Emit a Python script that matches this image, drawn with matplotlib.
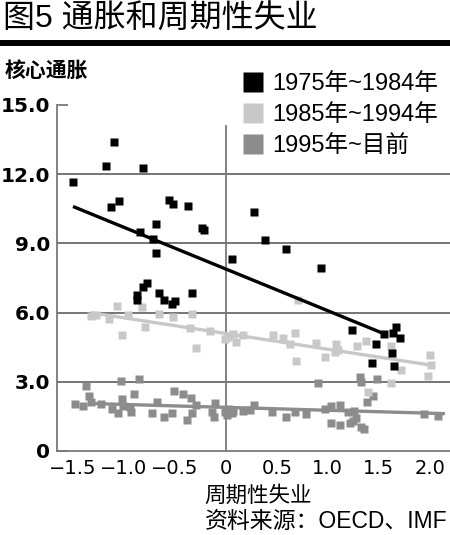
import matplotlib
matplotlib.use("Agg")
import matplotlib.pyplot as plt
from matplotlib.lines import Line2D

plt.rcParams['font.family'] = ['Liberation Sans', 'Noto Sans CJK SC', 'DejaVu Sans']

# ---------------- data ----------------
title = "图5 通胀和周期性失业"
ylabel = "核心通胀"
xlabel = "周期性失业"
source = "资料来源：OECD、IMF"
series_names = ["1975年~1984年", "1985年~1994年", "1995年~目前"]
colors = ["#000000", "#c8c8c8", "#8c8c8c"]

x_ticks = [-1.5, -1.0, -0.5, 0, 0.5, 1.0, 1.5, 2.0]
x_ticklabels = ["\u22121.5", "\u22121.0", "\u22120.5", "0", "0.5", "1.0", "1.5", "2.0"]
y_ticks = [0, 3, 6, 9, 12, 15]
y_ticklabels = ["0", "3.0", "6.0", "9.0", "12.0", "15.0"]

# 1975-1984
bx = [-1.50, -1.10, -1.18, -0.81, -1.13, -1.05, -0.56, -0.52, -0.37, -0.69, -0.84, -0.23, -0.21,
      -0.71, -0.69, 0.28, 0.06, -0.77, -0.81, -0.87, -0.87, -0.66, -0.61, -0.53, -0.50, -0.33,
      0.38, 0.59, 0.93, 1.24, 1.55, 1.64, 1.67, 1.71, 1.47, 1.63, 1.43, 1.65]
by = [11.67, 13.38, 12.34, 12.27, 10.56, 10.85, 10.88, 10.71, 10.62, 9.83, 9.49, 9.65, 9.58,
      9.20, 8.57, 10.37, 8.31, 7.27, 7.12, 6.76, 6.55, 6.86, 6.55, 6.37, 6.52, 6.86,
      9.13, 8.77, 7.93, 5.23, 5.06, 5.10, 5.37, 4.90, 4.62, 4.23, 3.80, 3.70]
# 1985-1994
lx = [-1.32, -1.27, -1.15, -1.07, -0.96, -1.02, -0.82, -0.79, -0.66, -0.52, -0.33, -0.35, -0.29,
      -0.16, -0.01, 0.02, 0.07, 0.10, 0.17, 0.46, 0.56, 0.63, 0.68, 0.69, 0.88, 0.97, 1.08,
      1.07, 1.10, 1.29, 1.38, 1.62, 1.72, 2.00, 2.01, 1.98, 0.71, 1.40, 1.62]
ly = [5.87, 5.90, 5.71, 6.30, 5.90, 5.03, 6.25, 5.37, 5.94, 5.82, 5.93, 5.35, 4.45,
      5.22, 4.84, 4.96, 5.07, 4.71, 5.03, 5.03, 4.88, 4.62, 5.10, 3.91, 4.70, 4.06, 4.62,
      4.30, 4.38, 4.55, 4.77, 4.55, 3.51, 4.16, 3.73, 3.25, 6.55, 2.57, 2.93]
# 1995-now
mx = [-1.37, -1.48, -1.40, -1.34, -1.32, -1.23, -1.12, -1.06, -1.02, -1.03, -0.85, -0.90, -1.01,
      -0.94, -0.93, -0.72, -0.68, -0.61, -0.53, -0.51, -0.42, -0.34, -0.29, -0.33, -0.38, -0.11,
      -0.14, -0.12, -0.01, 0.02, 0.06, 0.01, 0.24, 0.28, 0.45, 0.59, 0.68, 0.79, 0.90, 0.97,
      1.03, 1.12, 1.03, 1.12, 1.22, 1.20, 1.26, 1.28, 1.25, 1.33, 1.36, 1.32, 1.33, 1.48,
      1.39, 1.44, 1.94, 2.08, 0.07, 0.17]
my = [2.82, 2.02, 1.95, 2.38, 2.11, 2.02, 1.80, 1.63, 2.24, 3.03, 3.13, 2.47, 1.95,
      1.89, 1.67, 1.63, 2.14, 1.49, 1.66, 2.60, 2.47, 2.31, 1.99, 1.66, 1.34, 2.09,
      1.70, 1.49, 1.70, 1.80, 1.66, 1.56, 1.78, 1.99, 1.67, 1.49, 1.70, 1.60, 2.96, 1.82,
      1.95, 1.99, 1.23, 1.13, 1.20, 1.70, 1.75, 1.41, 1.31, 1.02, 0.94, 3.22, 3.00, 3.12,
      2.11, 2.40, 1.59, 1.52, 1.75, 1.75]

# trend lines (endpoints)
b_trend_x = [-1.50, 1.56]
b_trend_y = [10.60, 5.07]
l_trend_x = [-1.33, 2.00]
l_trend_y = [6.00, 3.73]
m_trend_x = [-1.33, 2.15]
m_trend_y = [2.06, 1.62]

# ---------------- figure ----------------
W, H = 450, 535
fig = plt.figure(figsize=(W / 100, H / 100), dpi=100)
ax = fig.add_axes([57 / W, 1 - 451 / H, 1 - 57 / W, (451 - 105) / H])

ax.set_xlim(-1.657, 2.2)
ax.set_ylim(0, 15)

# grid lines
for yv in [3, 6, 9, 12]:
    ax.axhline(yv, color="#6a6a6a", lw=1.3, zorder=1)
ax.axvline(0, ymin=0, ymax=14.1 / 15, color="#7a7a7a", lw=1.3, zorder=1)

ms = 6.0
ax.plot(mx, my, ls="none", marker="s", ms=ms, color=colors[2], mec="none", zorder=2)
ax.plot(m_trend_x, m_trend_y, color=colors[2], lw=2.4, zorder=3, solid_capstyle="butt")
ax.plot(lx, ly, ls="none", marker="s", ms=ms, color=colors[1], mec="none", zorder=4)
ax.plot(l_trend_x, l_trend_y, color=colors[1], lw=2.4, zorder=5, solid_capstyle="butt")
ax.plot(bx, by, ls="none", marker="s", ms=ms, color=colors[0], mec="none", zorder=6)
ax.plot(b_trend_x, b_trend_y, color=colors[0], lw=2.4, zorder=7, solid_capstyle="butt")

for s in ["top", "right"]:
    ax.spines[s].set_visible(False)
for s in ["left", "bottom"]:
    ax.spines[s].set_color("#7a7a7a")
    ax.spines[s].set_linewidth(1.3)

ax.set_xticks(x_ticks)
ax.set_xticklabels(x_ticklabels, family="DejaVu Sans", fontsize=14)
ax.tick_params(axis="x", length=0, pad=6)
ax.set_yticks(y_ticks)
ax.set_yticklabels(y_ticklabels, family="DejaVu Sans", fontsize=14.5, fontweight="bold")
ax.tick_params(axis="y", direction="in", length=8, width=1.3, color="#7a7a7a", pad=5)

# legend
handles = [Line2D([], [], ls="none", marker="s", ms=14.5, color=c, mec="none") for c in colors]
leg = fig.legend(handles, series_names, loc="upper left",
                 bbox_to_anchor=(241 / W, 1 - 73 / H), bbox_transform=fig.transFigure,
                 frameon=False, fontsize=17, handlelength=1.0, handletextpad=0.33,
                 labelspacing=0.38, borderpad=0, borderaxespad=0)

# texts
fig.text(3 / W, 1 - 20 / H, title, fontsize=23, ha="left", va="center")
fig.add_artist(Line2D([0, 1], [1 - 43 / H, 1 - 43 / H], transform=fig.transFigure,
                      color="black", lw=4.3))
fig.text(5 / W, 1 - 72 / H, ylabel, fontsize=15, ha="left", va="center", fontweight="bold")
fig.text(258 / W, 1 - 496 / H, xlabel, fontsize=15.5, ha="center", va="center")
fig.text(448 / W, 1 - 522 / H, source, fontsize=16.5, ha="right", va="center")

fig.savefig("out.png", dpi=100)
